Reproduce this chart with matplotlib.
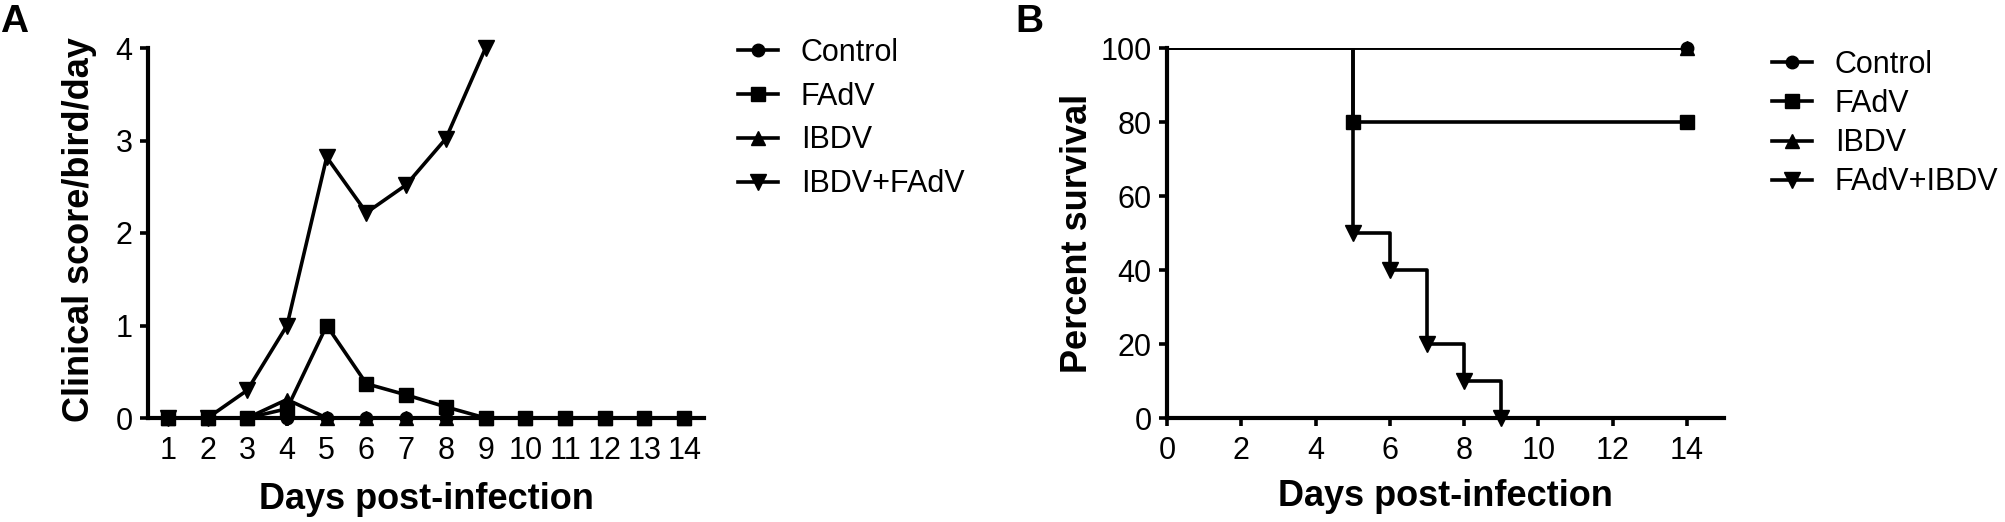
import matplotlib
matplotlib.use('Agg')
import matplotlib.pyplot as plt
from matplotlib.lines import Line2D

plt.rcParams['font.family'] = ['Liberation Sans', 'DejaVu Sans']

# 临床评分（A图）
days = [1, 2, 3, 4, 5, 6, 7, 8, 9, 10, 11, 12, 13, 14]
control_score = [0, 0, 0, 0, 0, 0, 0, 0, 0, 0, 0, 0, 0, 0]
fadv_score = [0, 0, 0, 0.1, 1.0, 0.37, 0.25, 0.12, 0, 0, 0, 0, 0, 0]
ibdv_score = [0, 0, 0, 0.2, 0, 0, 0, 0, 0, 0, 0, 0, 0, 0]
combo_days = [1, 2, 3, 4, 5, 6, 7, 8, 9]
combo_score = [0, 0, 0.3, 1.0, 2.82, 2.22, 2.52, 3.02, 4.0]
labels_a = ['Control', 'FAdV', 'IBDV', 'IBDV+FAdV']

# 生存曲线（B图）
control_t = [0, 14]
control_s = [100, 100]
fadv_t = [0, 5, 14]
fadv_s = [100, 80, 80]
ibdv_t = [0, 14]
ibdv_s = [100, 100]
combo_t = [0, 5, 6, 7, 8, 9]
combo_s = [100, 50, 40, 20, 10, 0]
labels_b = ['Control', 'FAdV', 'IBDV', 'FAdV+IBDV']

markers = ['o', 's', '^', 'v']
msizes = [9, 9.5, 10, 11]
zorders = [5, 6, 3, 4]  # 方块在最上层，圆点盖住三角
LW = 2.6
TICK_FS = 22
LABEL_FS = 26
LEGEND_FS = 22

fig = plt.figure(figsize=(20.05, 5.22), dpi=100)
ax_a = fig.add_axes([148 / 2005, 1 - 418 / 522, (704 - 148) / 2005, 370 / 522])
ax_b = fig.add_axes([1167 / 2005, 1 - 418 / 522, (1724 - 1167) / 2005, 370 / 522])


def style_axes(ax):
    for side in ['top', 'right']:
        ax.spines[side].set_visible(False)
    for side in ['left', 'bottom']:
        ax.spines[side].set_linewidth(3.0)
        ax.spines[side].set_capstyle('projecting')
    ax.tick_params(direction='out', length=6, width=2.6, labelsize=TICK_FS)
    ax.tick_params(axis='y', pad=5)
    ax.tick_params(axis='x', pad=7)


# A图
series_a = [(days, control_score), (days, fadv_score), (days, ibdv_score), (combo_days, combo_score)]
for (x, y), m, ms, z in zip(series_a, markers, msizes, zorders):
    ax_a.plot(x, y, color='black', lw=LW, marker=m, ms=ms, clip_on=False, zorder=z)
ax_a.set_xlim(0.5, 14.5)
ax_a.set_ylim(0, 4)
ax_a.set_xticks(days)
ax_a.set_yticks([0, 1, 2, 3, 4])
style_axes(ax_a)
ax_a.set_xlabel('Days post-infection', fontsize=LABEL_FS, fontweight='bold')
ax_a.set_ylabel('Clinical score/bird/day', fontsize=LABEL_FS, fontweight='bold')
ax_a.xaxis.set_label_coords(0.5, -0.172)
ax_a.yaxis.set_label_coords(-0.092, 0.51)

# B图：阶梯线裁剪在坐标区内，标记不裁剪
steps_b = [(control_t, control_s), (fadv_t, fadv_s), (ibdv_t, ibdv_s), (combo_t, combo_s)]
for (t, s), m, ms, z in zip(steps_b, markers, msizes, zorders):
    ax_b.step(t, s, where='post', color='black', lw=LW, zorder=2)
    ax_b.plot(t[1:], s[1:], ls='none', color='black', marker=m, ms=ms, clip_on=False, zorder=z)
ax_b.set_xlim(0, 15)
ax_b.set_ylim(0, 100)
ax_b.set_xticks([0, 2, 4, 6, 8, 10, 12, 14])
ax_b.set_yticks([0, 20, 40, 60, 80, 100])
style_axes(ax_b)
ax_b.set_xlabel('Days post-infection', fontsize=LABEL_FS, fontweight='bold')
ax_b.set_ylabel('Percent survival', fontsize=LABEL_FS, fontweight='bold')
ax_b.xaxis.set_label_coords(0.5, -0.165)
ax_b.yaxis.set_label_coords(-0.129, 0.5)


def make_handles(labels):
    return [Line2D([], [], color='black', lw=LW, marker=m, ms=ms, label=lab)
            for m, ms, lab in zip(markers, msizes, labels)]


fig.legend(handles=make_handles(labels_a), loc='upper left', bbox_to_anchor=(738 / 2005, 1 - 38 / 522),
           frameon=False, fontsize=LEGEND_FS, handlelength=1.3, handletextpad=0.75, labelspacing=0.45,
           borderpad=0, borderaxespad=0)
fig.legend(handles=make_handles(labels_b), loc='upper left', bbox_to_anchor=(1772 / 2005, 1 - 50 / 522),
           frameon=False, fontsize=LEGEND_FS, handlelength=1.3, handletextpad=0.75, labelspacing=0.3,
           borderpad=0, borderaxespad=0)

fig.text(0 / 2005, 1 - 4 / 522, 'A', fontsize=28, fontweight='bold', va='top', ha='left')
fig.text(1015 / 2005, 1 - 4 / 522, 'B', fontsize=28, fontweight='bold', va='top', ha='left')

fig.savefig('out.png', dpi=100)
